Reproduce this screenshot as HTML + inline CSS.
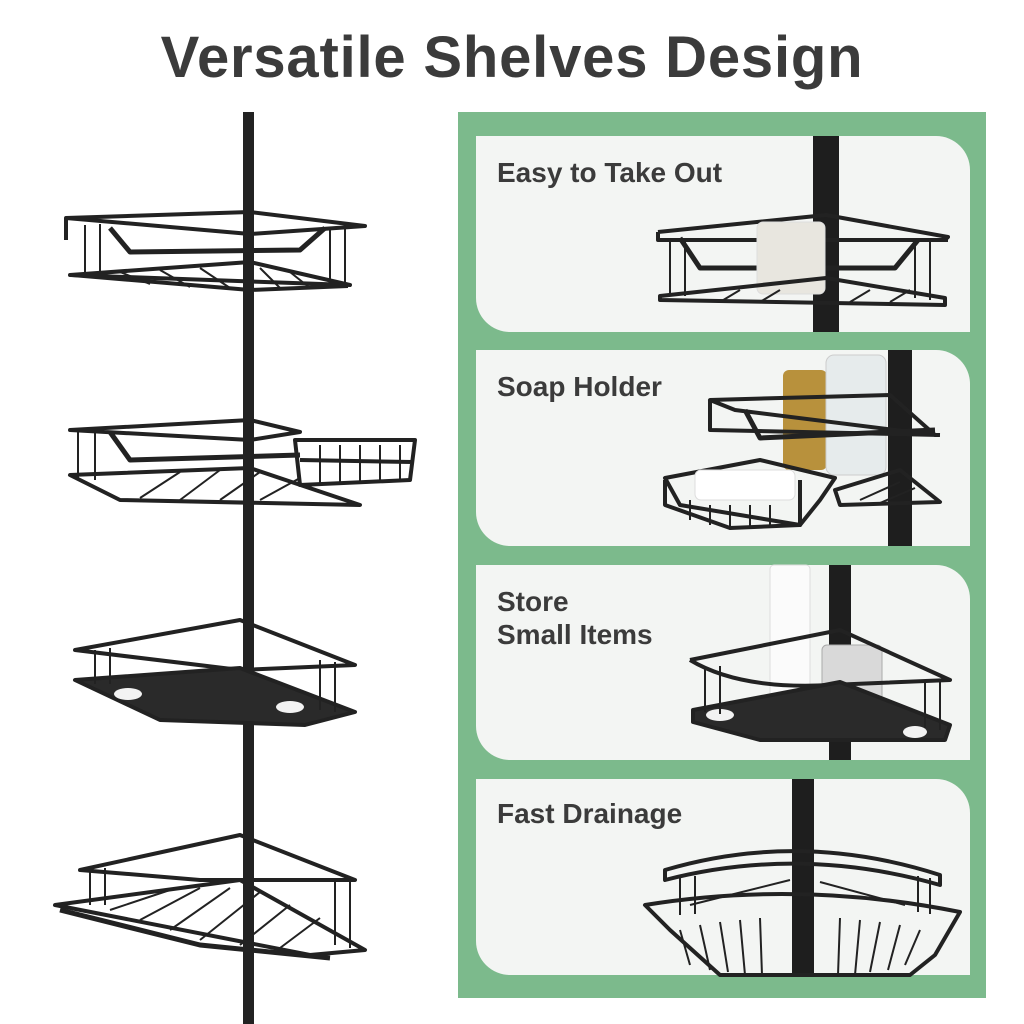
<!DOCTYPE html>
<html><head><meta charset="utf-8"><style>
html,body{margin:0;padding:0;background:#fff;}
body{width:1024px;height:1024px;position:relative;overflow:hidden;font-family:"Liberation Sans",sans-serif;}
.t{position:absolute;left:0;width:1024px;top:24px;text-align:center;font-weight:bold;font-size:58px;color:#3b3b3b;letter-spacing:0.8px;}
.green{position:absolute;left:458px;top:112px;width:528px;height:886px;background:#7cba8c;}
.card{position:absolute;left:476px;width:494px;background:#f3f5f3;border-radius:0 34px 0 34px;overflow:hidden;}
.lbl{position:absolute;left:21px;font-weight:bold;font-size:28px;color:#3b3b3b;line-height:33px;}
svg{position:absolute;left:0;top:0;}
</style></head><body>
<div class="t">Versatile Shelves Design</div>
<div class="green"></div>
<div class="card" style="top:136px;height:196px"><div class="lbl" style="top:20px">Easy to Take Out</div></div>
<div class="card" style="top:350px;height:196px"><div class="lbl" style="top:20px">Soap Holder</div></div>
<div class="card" style="top:565px;height:195px"><div class="lbl" style="top:20px">Store<br>Small Items</div></div>
<div class="card" style="top:779px;height:196px"><div class="lbl" style="top:18px">Fast Drainage</div></div>
<svg width="1024" height="1024" fill="none" stroke="#222" stroke-width="4" stroke-linejoin="round">
<!-- left pole -->
<rect x="243" y="112" width="11" height="912" fill="#222" stroke="none"/>
<!-- shelf 1 -->
<path d="M66 218 L250 212 L365 226 L250 234 Z M66 218 L66 240 M70 275 L250 262 L350 285 Z"/>
<path d="M72 275 L250 290 L348 286" />
<path d="M110 228 L130 252 L300 250 L325 228" stroke-width="5"/>
<g stroke-width="2"><path d="M85 225 V275 M100 224 V276 M330 230 V284 M345 228 V285 M120 272 L150 284 M160 270 L190 287 M200 268 L230 288 M260 268 L280 288 M290 272 L310 288"/></g>
<!-- shelf 2 -->
<path d="M70 430 L250 420 L300 432 L250 440 Z M70 475 L250 468 L360 505 L120 500 Z"/>
<path d="M110 432 L130 460 L300 455" stroke-width="5"/>
<path d="M295 440 L415 440 L410 480 L300 485 Z M300 460 L412 462"/>
<g stroke-width="2"><path d="M78 432 V478 M95 432 V480 M140 498 L180 472 M180 500 L220 470 M220 500 L260 472 M260 500 L300 478 M320 445 V484 M340 445 V484 M360 445 V482 M380 445 V482 M400 445 V480"/></g>
<!-- shelf 3 -->
<path d="M75 650 L240 620 L355 665 L240 670 Z" />
<path d="M75 680 L240 668 L355 712 L305 725 L160 720 Z" fill="#2a2a2a"/>
<ellipse cx="128" cy="694" rx="14" ry="6" fill="#f3f3f3" stroke="none"/><ellipse cx="290" cy="707" rx="14" ry="6" fill="#f3f3f3" stroke="none"/>
<g stroke-width="2"><path d="M95 650 V684 M110 648 V684 M320 660 V710 M335 662 V712"/></g>
<!-- shelf 4 -->
<path d="M80 870 L240 835 L355 880 L200 880 Z M55 905 L240 880 L365 950 L310 955 Z"/>
<path d="M60 910 L200 945 L330 958" stroke-width="5"/>
<g stroke-width="2"><path d="M90 870 V905 M105 868 V905 M335 880 V945 M350 882 V948 M110 910 L170 890 M140 920 L200 888 M170 930 L230 888 M200 940 L260 892 M240 945 L290 905 M280 948 L320 918"/></g>

<!-- card1 -->
<rect x="813" y="136" width="26" height="196" fill="#1e1e1e" stroke="none"/>
<path d="M658 232 L826 215 L948 237 L945 240 M658 232 V240 L948 240"/>
<path d="M680 238 L700 268 L895 268 L918 240" stroke-width="5"/>
<rect x="757" y="222" width="68" height="72" rx="6" fill="#e8e6df" stroke="#ddd" stroke-width="1"/>
<path d="M660 296 L826 278 L945 298 L945 305 L660 300 Z"/>
<g stroke-width="2"><path d="M670 240 V296 M685 240 V296 M915 240 V298 M930 240 V300 M720 302 L740 290 M760 302 L780 290 M850 302 L870 290 M890 302 L910 290"/></g>
<!-- card2 -->
<rect x="888" y="350" width="24" height="196" fill="#1e1e1e" stroke="none"/>
<rect x="783" y="370" width="44" height="100" rx="6" fill="#b8913c" stroke="none"/>
<rect x="826" y="355" width="60" height="120" rx="8" fill="#e6ebec" stroke="#ccc" stroke-width="1"/>
<path d="M710 400 L890 395 L935 435 L735 410 Z M710 400 V430 L940 435"/>
<path d="M745 410 L760 438 L935 430" stroke-width="5"/>
<path d="M665 478 L760 460 L835 478 L820 500 L800 525 L680 505 Z"/>
<rect x="695" y="470" width="100" height="30" rx="6" fill="#fff" stroke="#ddd" stroke-width="1"/>
<path d="M665 480 V505 L730 528 L800 525 V480"/>
<path d="M835 490 L900 470 L940 502 L840 505 Z"/>
<g stroke-width="2"><path d="M690 500 V520 M710 505 V525 M730 505 V528 M750 505 V528 M770 505 V525 M860 500 L900 482 M880 503 L915 488"/></g>
<!-- card3 -->
<rect x="829" y="565" width="22" height="195" fill="#1e1e1e" stroke="none"/>
<rect x="770" y="565" width="40" height="150" rx="4" fill="#fbfbfb" stroke="#ddd" stroke-width="1"/>
<rect x="822" y="645" width="60" height="80" rx="5" fill="#d9d9d9" stroke="#aaa" stroke-width="1"/>
<path d="M690 660 L840 630 L950 680 L830 685 Q740 690 690 660"/>
<path d="M693 710 L840 682 L950 725 L945 740 L760 740 L693 722 Z" fill="#2a2a2a"/>
<ellipse cx="720" cy="715" rx="14" ry="6" fill="#f3f3f3" stroke="none"/><ellipse cx="915" cy="732" rx="12" ry="6" fill="#f3f3f3" stroke="none"/>
<g stroke-width="2"><path d="M705 668 V712 M720 666 V714 M925 680 V728 M940 680 V730"/></g>
<!-- card4 -->
<rect x="792" y="779" width="22" height="196" fill="#1e1e1e" stroke="none"/>
<path d="M665 870 Q800 830 940 875 L940 885 Q800 845 665 880 Z"/>
<path d="M645 905 Q800 880 960 912 L935 955 L910 975 L720 975 L670 930 Z"/>
<g stroke-width="2"><path d="M680 878 V915 M695 876 V914 M918 876 V912 M930 878 V914 M680 930 L690 965 M700 925 L710 970 M720 922 L728 972 M740 920 L745 975 M760 918 L762 975 M840 918 L838 975 M860 920 L855 975 M880 922 L870 972 M900 925 L888 970 M920 930 L905 965 M690 905 L790 880 M905 905 L820 882"/></g>
</svg>
</body></html>
